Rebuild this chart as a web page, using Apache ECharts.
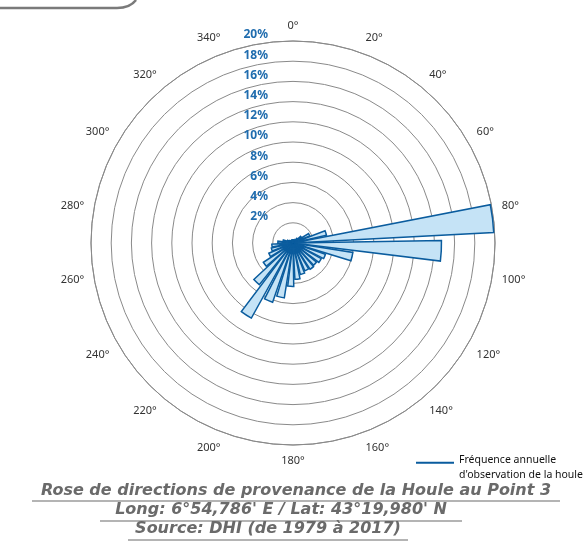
<!DOCTYPE html>
<html><head><meta charset="utf-8">
<script src="https://cdn.jsdelivr.net/npm/echarts@6/dist/echarts.min.js"></script>
<style>html,body{margin:0;padding:0;background:#fff}#c{width:587px;height:550px}</style>
</head><body><div id="c"></div>
<script>
// Direction bins (degrees, direction of provenance)
const directions = [0,10,20,30,40,50,60,70,80,90,100,110,120,130,140,150,160,170,
                    180,190,200,210,220,230,240,250,260,270,280,290,300,310,320,330,340,350];
// Annual frequency of observation (%)
const frequency = [0.3,0.3,0.3,0.4,0.6,1.0,1.8,3.4,19.9,14.7,6.0,3.4,3.2,3.0,3.1,3.0,3.2,3.6,
                   4.3,5.5,6.2,8.5,5.3,3.5,2.6,2.2,2.1,1.5,1.0,0.6,0.4,0.3,0.3,0.3,0.3,0.3];
// Tick definitions
const radiusMax = 20, radiusStep = 2;
const angleStep = 20;
const seriesName = "Fréquence annuelle\nd'observation de la houle";
const titleLines = [
  "Rose de directions de provenance de la Houle au Point 3",
  "Long: 6°54,786' E / Lat: 43°19,980' N",
  "Source: DHI (de 1979 à 2017)"
];

const CX = 293, CY = 243, R = 202;
const chart = echarts.init(document.getElementById('c'), null, {renderer: 'canvas'});
const titleFont = 'bold italic 16px "DejaVu Sans", sans-serif';
const titlePos = [[296, 491], [281, 510], [268, 529]];
const underline = [[32, 560, 501], [100, 462, 521], [128, 408, 540]];
const graphics = [
  {type: 'line', shape: {x1: 0, y1: 8, x2: 117, y2: 8}, style: {stroke: '#7a7a7a', lineWidth: 2.5}},
  {type: 'bezierCurve', shape: {x1: 117, y1: 8, cpx1: 130, cpy1: 8, x2: 136, y2: 0}, style: {fill: null, stroke: '#7a7a7a', lineWidth: 2.5}}
];
titleLines.forEach((t, i) => {
  graphics.push({type: 'text', x: titlePos[i][0], y: titlePos[i][1],
    style: {text: t, font: titleFont, fill: '#6a6a6a', textAlign: 'center', textVerticalAlign: 'middle'}});
  graphics.push({type: 'line', shape: {x1: underline[i][0], y1: underline[i][2], x2: underline[i][1], y2: underline[i][2]},
    style: {stroke: '#6a6a6a', lineWidth: 1.2}});
});

chart.setOption({
  animation: false,
  backgroundColor: '#fff',
  polar: [
    {center: [CX, CY], radius: R},
    {center: [CX, CY], radius: R}
  ],
  angleAxis: [
    {polarIndex: 0, type: 'value', min: 0, max: 360, interval: angleStep, startAngle: 90, clockwise: true,
     axisLine: {show: true, lineStyle: {color: '#8a8a8a', width: 1}},
     axisTick: {show: false}, splitLine: {show: false},
     axisLabel: {margin: 10, color: '#333', fontSize: 11, fontFamily: '"Noto Sans", sans-serif',
       formatter: v => v === 360 ? '' : v + '°'}},
    {polarIndex: 1, type: 'category', data: directions, startAngle: 92, clockwise: true,
     boundaryGap: true,
     axisLine: {show: false}, axisTick: {show: false}, axisLabel: {show: false}, splitLine: {show: false}}
  ],
  radiusAxis: [
    {polarIndex: 0, type: 'value', min: 0, max: radiusMax, interval: radiusStep,
     axisLine: {show: false}, axisTick: {show: false},
     splitLine: {show: true, lineStyle: {color: '#8a8a8a', width: 1}},
     axisLabel: {margin: 25, color: '#1f6cae', fontSize: 12, fontWeight: 'bold',
       fontFamily: '"Noto Sans", sans-serif', verticalAlign: 'bottom',
       formatter: v => v === 0 ? '' : v + '%'}},
    {polarIndex: 1, type: 'value', min: 0, max: radiusMax,
     axisLine: {show: false}, axisTick: {show: false}, axisLabel: {show: false}, splitLine: {show: false}}
  ],
  legend: {
    left: 411, top: 448, orient: 'vertical',
    data: [seriesName],
    icon: 'path://M0,0H40V2H0Z M0,13H0.01V13.01H0Z',
    itemWidth: 38, itemHeight: 14, itemGap: 4,
    itemStyle: {color: '#0a5c9e', borderWidth: 0},
    textStyle: {fontSize: 10.5, color: '#111', fontFamily: '"Noto Sans", sans-serif', lineHeight: 15}
  },
  series: [{
    name: seriesName, type: 'bar', coordinateSystem: 'polar', polarIndex: 1,
    data: frequency, barCategoryGap: '20%',
    itemStyle: {color: '#c5e3f6', borderColor: '#0a5c9e', borderWidth: 1.5}
  }],
  graphic: graphics
});
</script>
</body></html>
